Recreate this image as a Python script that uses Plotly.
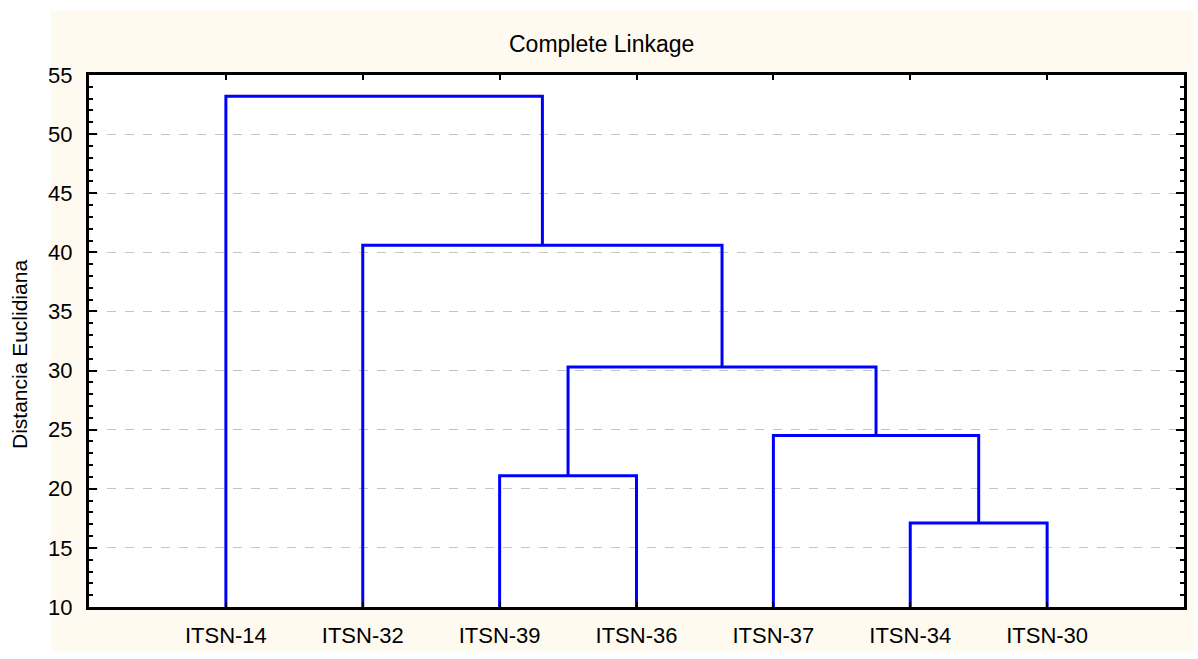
import plotly.graph_objects as go

# ---- data ----
leaves = ["ITSN-14", "ITSN-32", "ITSN-39", "ITSN-36", "ITSN-37", "ITSN-34", "ITSN-30"]
# merges: (left child, right child, height); children are leaf names or merge indices
merge_left = ["ITSN-34", "ITSN-39", "ITSN-37", 1, "ITSN-32", "ITSN-14"]
merge_right = ["ITSN-30", "ITSN-36", 0, 2, 3, 4]
merge_height = [17.1, 21.1, 24.5, 30.3, 40.6, 53.2]
y_ticks = [10, 15, 20, 25, 30, 35, 40, 45, 50, 55]

title_text = "Complete Linkage"
y_title = "Distancia Euclidiana"

W, H = 1198, 659
L, R, T, B = 89, 11, 75, 46
FONT = "Liberation Sans, Arial, sans-serif"
BLUE = "#0000FF"
ybase = y_ticks[0]

pos = {name: i + 1 for i, name in enumerate(leaves)}
top = {name: ybase for name in leaves}

def node(c):
    return c if isinstance(c, str) else ("m", c)

xs, ys = [], []
for i, (a, b, h) in enumerate(zip(merge_left, merge_right, merge_height)):
    ka, kb = node(a), node(b)
    xa, xb = pos[ka], pos[kb]
    ya, yb = top[ka], top[kb]
    xs += [xa, xa, xb, xb, None]
    ys += [ya, h, h, yb, None]
    pos[("m", i)] = (xa + xb) / 2
    top[("m", i)] = h

fig = go.Figure()
fig.add_trace(go.Scatter(x=xs, y=ys, mode="lines",
                         line=dict(color=BLUE, width=3), hoverinfo="skip",
                         showlegend=False))

fig.update_layout(
    width=W, height=H,
    margin=dict(l=L, r=R, t=T, b=B),
    paper_bgcolor="white", plot_bgcolor="white",
    font=dict(family=FONT, size=20, color="black"),
    showlegend=False,
)
pw = W - L - R
ph = H - T - B
def px(x):
    return (x - L) / pw
def py(y):
    return 1 - (y - T) / ph

fig.add_shape(type="rect", xref="paper", yref="paper",
              x0=px(51), x1=px(1197), y0=py(658), y1=py(10),
              fillcolor="#FFFAF0", line=dict(width=0), layer="below")
fig.add_shape(type="rect", xref="paper", yref="paper",
              x0=0, x1=1, y0=0, y1=1,
              fillcolor="white", line=dict(width=0), layer="below")

fig.update_xaxes(range=[0, len(leaves) + 1],
                 tickmode="array", tickvals=list(range(1, len(leaves) + 1)),
                 ticktext=leaves, ticks="inside", ticklen=5, tickwidth=2,
                 tickcolor="black", showline=True, linecolor="black",
                 linewidth=3, mirror="ticks", showgrid=False, zeroline=False,
                 tickfont=dict(size=22, family=FONT), ticklabelstandoff=7)
fig.update_yaxes(range=[y_ticks[0], y_ticks[-1]],
                 tickmode="array", tickvals=y_ticks,
                 ticks="inside", ticklen=8, tickwidth=2, tickcolor="black",
                 minor=dict(dtick=1, ticks="inside", ticklen=4, tickwidth=2,
                            tickcolor="black", showgrid=False),
                 showline=True, linecolor="black", linewidth=3, mirror="ticks",
                 showgrid=True, gridcolor="#C4C4C4", griddash="dash",
                 gridwidth=1, zeroline=False,
                 tickfont=dict(size=22, family=FONT), ticklabelstandoff=9)

fig.add_annotation(text=title_text, xref="paper", yref="paper",
                   x=px(603), y=py(44), showarrow=False,
                   font=dict(size=23, family=FONT), xanchor="center",
                   yanchor="middle")
fig.add_annotation(text=y_title, xref="paper", yref="paper",
                   x=px(20), y=py(358), showarrow=False, textangle=-90,
                   font=dict(size=21, family=FONT), xanchor="center",
                   yanchor="middle")

fig.write_html("out.html",
               config={"displayModeBar": False, "responsive": False},
               post_script="document.body.style.margin='0';"
                           "document.body.style.padding='0';"
                           "document.documentElement.style.overflow='hidden';"
                           "document.body.style.overflow='hidden';")
